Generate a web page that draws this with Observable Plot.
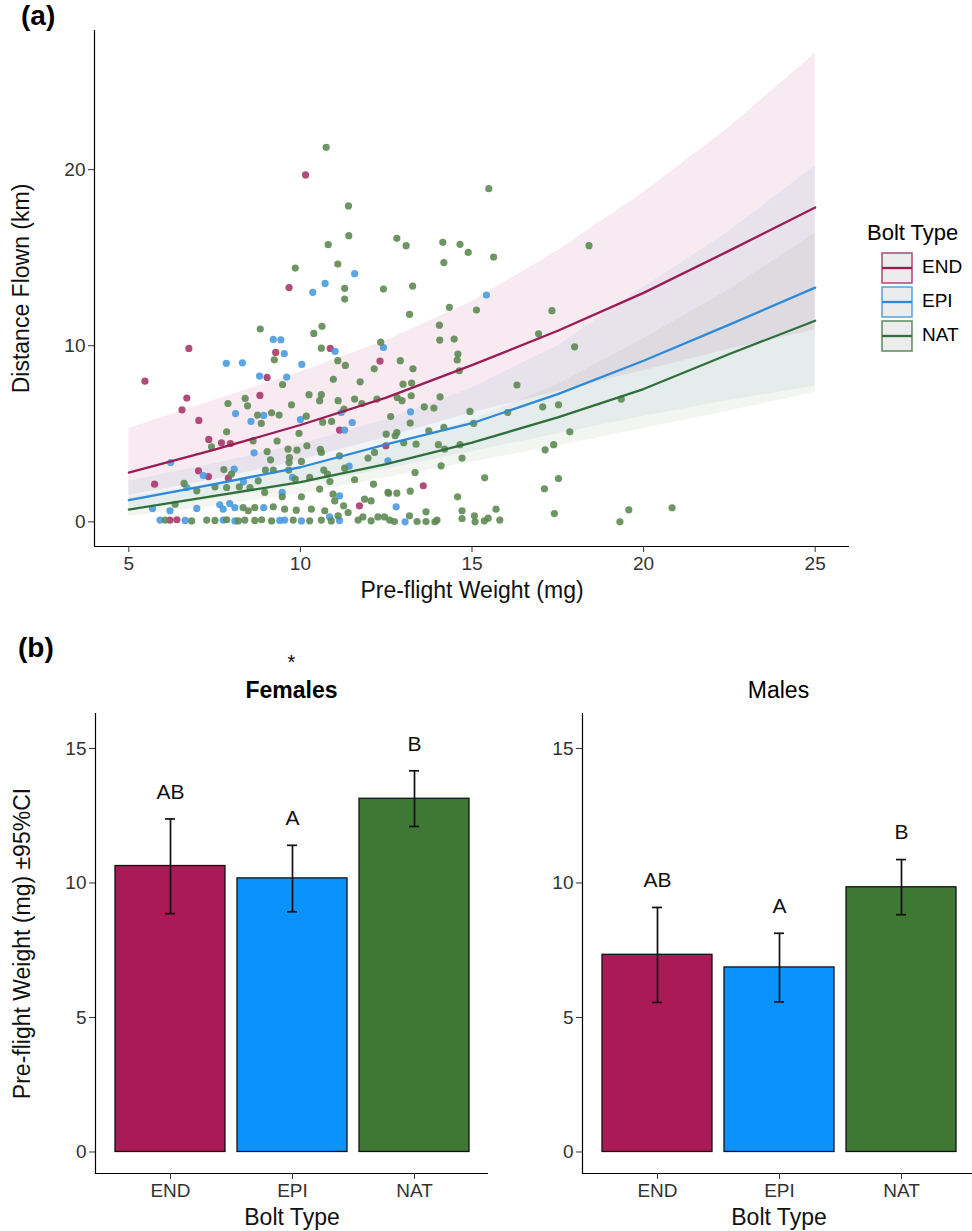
<!DOCTYPE html>
<html><head><meta charset="utf-8">
<script src="https://cdn.jsdelivr.net/npm/d3@7"></script>
<script src="https://cdn.jsdelivr.net/npm/@observablehq/plot@0.6"></script>
<style>
body{margin:0;background:#fff;font-family:"Liberation Sans",Arial,sans-serif;}
#root{position:relative;width:972px;height:1231px;overflow:hidden;background:#fff;}
.abs{position:absolute;white-space:nowrap;}
svg g[aria-label$="tick label"]{font-size:19px;}
svg g[aria-label$="tick label"] text{fill:#333;font-size:19px;}
svg g[aria-label$="-axis label"] text{fill:#111;font-size:23px;}
</style></head><body><div id="root"></div>
<script>
// ---------- Panel (a) data ----------
const types = ["END","EPI","NAT"];
const fitX   = [5, 7.5, 10, 12.5, 15, 17.5, 20, 22.5, 25];
const endFit = [2.8, 4.1, 5.5, 7.05, 8.9, 10.85, 13.0, 15.4, 17.85];
const endLo  = [1.5, 2.4, 3.5, 4.8, 6.2, 7.4, 8.6, 9.8, 10.9];
const endHi  = [5.3, 6.9, 8.5, 10.3, 12.5, 15.4, 18.7, 22.4, 26.6];
const epiFit = [1.23, 2.14, 3.1, 4.4, 5.6, 7.25, 9.15, 11.2, 13.3];
const epiLo  = [0.6, 1.3, 2.1, 3.0, 4.0, 5.0, 6.0, 6.9, 7.7];
const epiHi  = [2.3, 3.3, 4.4, 5.8, 7.6, 10.0, 13.3, 16.5, 20.2];
const natFit = [0.7, 1.48, 2.25, 3.28, 4.5, 5.93, 7.54, 9.53, 11.42];
const natLo  = [0.3, 0.9, 1.6, 2.5, 3.4, 4.3, 5.3, 6.3, 7.35];
const natHi  = [1.4, 2.2, 3.1, 4.2, 5.8, 7.8, 10.4, 13.2, 16.4];

const endPts = [[10.15,19.7],[9.67,13.3],[6.75,9.85],[9.28,9.62],[10.87,9.85],[12.32,9.13],[5.47,7.99],[9.03,8.2],[6.69,7.03],[6.55,6.36],[7.04,5.76],[8.82,7.18],[11.14,5.21],[7.33,4.68],[7.7,4.49],[7.96,4.45],[7.03,2.9],[7.32,2.57],[7.9,2.48],[5.75,2.14],[11.72,0.91],[12.49,4.32],[13.58,2.05],[6.2,0.1],[6.4,0.12]];
const epiPts = [[11.58,14.09],[10.36,13.03],[10.72,13.54],[9.21,10.36],[9.43,10.34],[9.53,9.55],[11.01,9.68],[12.42,9.9],[7.84,9.0],[8.31,9.03],[10.04,8.94],[8.81,8.28],[9.6,8.22],[15.42,12.88],[8.11,6.15],[8.56,5.7],[8.93,6.04],[10.0,5.81],[11.19,6.21],[11.51,5.64],[11.29,5.21],[8.65,3.92],[12.55,3.47],[6.22,3.37],[7.17,2.63],[8.07,2.99],[8.34,2.27],[9.77,2.52],[11.42,3.16],[6.69,1.95],[9.47,1.67],[11.14,1.48],[5.69,0.76],[6.2,0.63],[6.98,0.76],[7.65,0.97],[7.75,0.72],[7.94,1.04],[8.09,0.81],[8.93,0.81],[10.85,0.28],[13.21,6.25],[12.79,0.85],[13.05,0.0],[5.91,0.1],[6.64,0.08],[7.75,0.1],[8.09,0.05],[9.4,0.08],[9.54,0.1],[10.03,0.05],[11.14,0.08]];
const natPts = [[10.75,21.27],[11.4,17.94],[11.41,16.25],[10.81,15.74],[9.85,14.41],[11.09,14.64],[11.29,13.26],[11.29,12.65],[12.42,13.22],[8.83,10.95],[10.39,10.7],[10.63,11.1],[9.24,9.2],[10.61,9.86],[12.34,10.2],[11.09,9.15],[11.31,8.88],[12.15,8.69],[9.48,7.8],[10.96,8.09],[11.74,7.95],
[7.89,6.72],[8.39,7.01],[8.46,6.59],[9.74,6.65],[10.25,7.22],[10.61,7.22],[10.56,6.88],[11.1,6.88],[11.58,6.97],[11.79,6.72],[12.23,6.97],[8.75,6.06],[8.86,5.59],[9.16,6.19],[9.38,6.06],[10.17,6.0],[10.65,5.66],[10.91,5.7],[11.27,6.4],[7.85,5.11],[9.96,5.02],[12.5,4.98],[7.41,4.26],[8.62,4.6],[9.32,4.59],[9.64,4.13],[9.9,4.07],[10.19,4.32],[10.58,4.11],[9.03,3.99],[9.68,3.65],[9.13,3.52],[9.67,3.37],[10.03,3.43],[10.61,3.94],[11.14,3.75],[11.97,3.62],[12.16,3.94],[7.77,2.97],[7.99,2.71],[8.77,2.33],[8.98,2.94],[9.21,2.94],[9.66,2.94],[9.85,2.43],[10.27,2.52],[10.68,2.94],[10.79,2.71],[10.86,2.29],[11.29,3.05],[11.58,2.39],[12.13,2.14],[12.55,1.67],[6.61,2.18],[6.98,1.76],[7.51,1.99],[7.85,1.95],[8.22,1.99],[8.53,1.95],[8.96,1.67],[9.47,1.42],[10.03,1.42],[10.56,1.86],[10.95,1.57],[11.0,1.19],[11.26,0.91],[11.87,1.29],[12.06,1.19],[6.35,1.0],[8.33,0.81],[8.48,0.63],[8.67,0.81],[9.21,0.85],[9.54,0.72],[9.88,0.66],[10.32,0.72],[10.71,0.63],[11.1,0.34],[11.39,0.53],[11.82,0.28],[12.26,0.28],[12.45,0.28],
[6.06,0.1],[6.83,0.05],[7.27,0.1],[7.51,0.08],[7.85,0.12],[8.19,0.05],[8.38,0.1],[8.67,0.08],[8.87,0.12],[9.16,0.05],[9.79,0.1],[10.27,0.06],[10.61,0.1],[10.9,0.05],[11.68,0.1],[12.06,0.06],[12.6,0.1],
[15.49,18.92],[12.81,16.1],[13.08,15.68],[14.15,15.87],[14.65,15.76],[14.89,15.3],[14.18,14.72],[15.63,15.04],[18.41,15.68],[13.27,13.39],[13.18,11.78],[14.34,12.18],[15.13,12.03],[17.33,11.99],[14.05,11.17],[14.06,10.32],[14.48,10.38],[16.94,10.68],[17.99,9.94],[14.59,9.53],[14.57,9.19],[12.91,9.15],[13.28,8.69],[14.63,8.58],[12.99,7.82],[13.24,7.88],[16.31,7.77],
[12.82,7.06],[12.96,6.88],[13.23,7.16],[14.07,7.1],[12.63,5.98],[13.61,6.53],[13.89,6.46],[14.94,6.27],[16.04,6.21],[17.06,6.53],[17.52,6.65],[19.35,6.97],[13.2,5.61],[12.81,5.07],[12.76,4.89],[13.74,5.17],[14.18,5.36],[15.05,5.59],[17.85,5.11],[13.01,4.49],[13.37,4.41],[14.02,4.38],[14.2,4.13],[14.65,4.38],[17.13,4.09],[17.38,4.38],[14.71,3.62],[14.1,3.18],[13.34,2.8],[15.37,2.5],[17.52,2.46],[17.11,1.88],[12.57,1.63],[12.81,1.63],[13.2,1.74],[14.58,1.42],[13.66,0.57],[14.71,0.63],[15.7,0.72],[19.57,0.68],[20.83,0.8],[17.4,0.47],[12.74,0.02],[13.18,0.34],[13.4,0.02],[13.66,0.02],[13.92,0.0],[13.98,0.1],[14.71,0.19],[15.07,0.34],[15.09,0.0],[15.36,0.06],[15.47,0.21],[15.81,0.1],[19.31,0.0]];

const xTicksA = [5, 10, 15, 20, 25];
const yTicksA = [0, 10, 20];

// ---------- Panel (b) data ----------
const cats = ["END","EPI","NAT"];
const femMean = [10.63, 10.17, 13.13];
const femLo   = [8.86, 8.93, 12.10];
const femHi   = [12.38, 11.40, 14.17];
const femLetters = ["AB","A","B"];
const maleMean = [7.33, 6.86, 9.84];
const maleLo   = [5.56, 5.58, 8.82];
const maleHi   = [9.09, 8.13, 10.87];
const maleLetters = ["AB","A","B"];
const yTicksB = [0, 5, 10, 15];

// ---------- styles ----------
const barColors = ["#A91A56", "#0A93FC", "#3F7734"];
const ptColors  = {END:"#A8376B", EPI:"#4A9BE2", NAT:"#5E8A53"};
const lineColors = {END:"#9C1B55", EPI:"#2E8AD8", NAT:"#2F6F3A"};
const ribColors = {END:"#B0306A", EPI:"#6E9FD8", NAT:"#7C9A70"};
const ribOpacity = {END:0.1, EPI:0.1, NAT:0.1};
const FONT = '"Liberation Sans", Arial, sans-serif';

const fits = {
  END: fitX.map((x,i)=>({x, fit:endFit[i], lo:endLo[i], hi:endHi[i]})),
  EPI: fitX.map((x,i)=>({x, fit:epiFit[i], lo:epiLo[i], hi:epiHi[i]})),
  NAT: fitX.map((x,i)=>({x, fit:natFit[i], lo:natLo[i], hi:natHi[i]}))
};
const pts = {END:endPts, EPI:epiPts, NAT:natPts};

const root = document.getElementById("root");
function place(el, left, top){ el.style.position="absolute"; el.style.left=left+"px"; el.style.top=top+"px"; root.appendChild(el); return el; }
function label(html, left, top, css){ const d=document.createElement("div"); d.className="abs"; d.innerHTML=html; d.style.cssText += css||""; return place(d,left,top); }

const yDomA = [-1.4, 27.9], xDomA = [4, 26];
const plotA = Plot.plot({
  width: 972, height: 600,
  marginLeft: 94, marginRight: 123, marginTop: 30, marginBottom: 54,
  style: {fontFamily: FONT, fontSize: "19px", color: "#000", background: "transparent", overflow: "visible"},
  x: {domain: xDomA},
  y: {domain: yDomA},
  marks: [
    ...types.map(t => Plot.areaY(fits[t], {x:"x", y1:"lo", y2:"hi", fill: ribColors[t], fillOpacity: ribOpacity[t]})),
    ...types.map(t => Plot.dot(pts[t], {x: d=>d[0], y: d=>d[1], r: 3.6, fill: ptColors[t], fillOpacity: 0.9, stroke: "none"})),
    ...types.map(t => Plot.line(fits[t], {x:"x", y:"fit", stroke: lineColors[t], strokeWidth: 2.3})),
    Plot.ruleX([xDomA[0]], {stroke:"#000", strokeWidth: 1.2}),
    Plot.ruleY([yDomA[0]], {stroke:"#000", strokeWidth: 1.2}),
    Plot.axisX({ticks: xTicksA, tickSize: 6, tickPadding: 4, stroke:"#333", fontSize: 19,
      label: "Pre-flight Weight (mg)", labelAnchor: "center", labelOffset: 51, labelArrow: false}),
    Plot.axisY({ticks: yTicksA, tickSize: 6, tickPadding: 3, stroke:"#333", fontSize: 19,
      label: "Distance Flown (km)", labelAnchor: "center", labelOffset: 82, labelArrow: false})
  ]
});
place(plotA, 0, 0);

function panel(mean, lo, hi, letters, yLabel) {
  const rows = cats.map((c,i)=>({cat:c, mean:mean[i], lo:lo[i], hi:hi[i], letter:letters[i]}));
  const yDom = [-0.8, 16.3];
  return Plot.plot({
    width: 490, height: 530,
    marginLeft: 95, marginRight: 2, marginTop: 13, marginBottom: 57,
    style: {fontFamily: FONT, fontSize: "19px", color: "#000", background: "transparent", overflow: "visible"},
    x: {domain: cats, paddingInner: 0.1, paddingOuter: 0.15},
    y: {domain: yDom},
    color: {domain: cats, range: barColors},
    marks: [
      Plot.barY(rows, {x:"cat", y1: 0, y2:"mean", fill:"cat", stroke:"#111", strokeWidth: 1.3}),
      Plot.ruleX(rows, {x:"cat", y1:"lo", y2:"hi", stroke:"#111", strokeWidth: 1.7}),
      Plot.tickY(rows, {x:"cat", y:"lo", insetLeft: 50, insetRight: 50, stroke:"#111", strokeWidth: 1.7}),
      Plot.tickY(rows, {x:"cat", y:"hi", insetLeft: 50, insetRight: 50, stroke:"#111", strokeWidth: 1.7}),
      Plot.text(rows, {x:"cat", y: d => d.hi + 1, text:"letter", fontSize: 21, fill:"#111"}),
      Plot.ruleY([yDom[0]], {stroke:"#000", strokeWidth: 1.2}),
      Plot.frame({anchor: "left", stroke:"#000", strokeWidth: 1.2}),
      Plot.axisX({tickSize: 6, tickPadding: 4, stroke:"#333", fontSize: 19,
        label: "Bolt Type", labelAnchor: "center", labelOffset: 51, labelArrow: false}),
      Plot.axisY({ticks: yTicksB, tickSize: 6, tickPadding: 3, stroke:"#333", fontSize: 19,
        label: yLabel, labelAnchor: "center", labelOffset: 82, labelArrow: false})
    ]
  });
}
place(panel(femMean, femLo, femHi, femLetters, "Pre-flight Weight (mg) ±95%CI"), 0, 700);
place(panel(maleMean, maleLo, maleHi, maleLetters, null), 487, 700);

// panel tags and facet titles
label("(a)", 21, 0, "font-size:28px;font-weight:bold;");
label("(b)", 18, 632, "font-size:28px;font-weight:bold;");
label("*", 95, 651, "font-size:20px;width:393px;text-align:center;");
label("Females", 95, 677, "font-size:23px;font-weight:bold;width:393px;text-align:center;");
label("Males", 582, 677, "font-size:23px;width:393px;text-align:center;");

// legend
label("Bolt Type", 867, 220, "font-size:22px;");
types.forEach((t,i)=>{
  const top = 252 + i*34;
  const sw = document.createElementNS("http://www.w3.org/2000/svg","svg");
  sw.setAttribute("width","34"); sw.setAttribute("height","34");
  sw.innerHTML = `<rect x="1" y="1" width="30" height="30" fill="#ececec" stroke="${lineColors[t]}" stroke-opacity="0.75" stroke-width="1.6"/>`+
    `<line x1="1" x2="31" y1="16" y2="16" stroke="${lineColors[t]}" stroke-width="2.3"/>`;
  place(sw, 881, top);
  label(t, 922, top+4, "font-size:19px;");
});
</script></body></html>
